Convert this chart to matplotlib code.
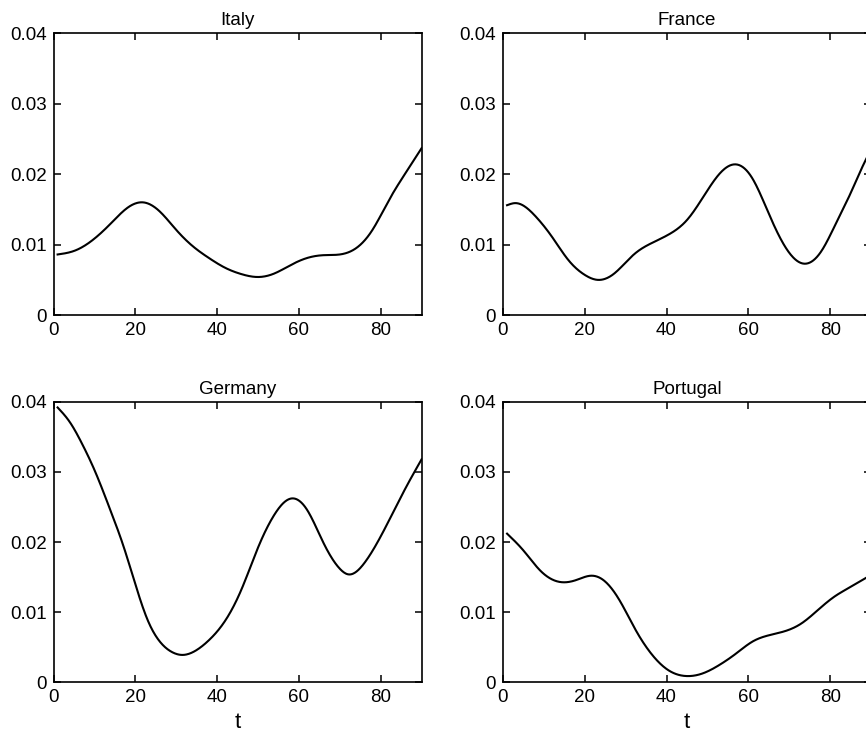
import matplotlib
matplotlib.use("Agg")
import numpy as np
import matplotlib.pyplot as plt

plt.rcParams['font.family'] = ['Liberation Sans', 'DejaVu Sans']

# values
t_italy = [1, 5, 9, 14, 18, 22, 26, 30, 34, 38, 42, 46, 50, 54, 58, 62, 66, 70, 74, 78, 82, 86, 90]
italy = [0.0086, 0.0091, 0.0104, 0.0130, 0.0152, 0.0160, 0.0147, 0.0121, 0.0098, 0.0081,
         0.0067, 0.0058, 0.0054, 0.0059, 0.0071, 0.0081, 0.0085, 0.0086, 0.0095, 0.0121,
         0.0163, 0.0201, 0.0237]

t_france = [1, 3, 8, 12, 16, 20, 23, 27, 32, 37, 41, 45, 49, 53, 57, 61, 65, 69, 73.5, 78,
            81, 85, 88.5, 90]
france = [0.0156, 0.0159, 0.0140, 0.0111, 0.0078, 0.0057, 0.0050, 0.0058, 0.0086, 0.0104,
          0.0116, 0.0135, 0.0168, 0.0201, 0.0214, 0.0194, 0.0144, 0.0097, 0.0073, 0.0092,
          0.0125, 0.0173, 0.0218, 0.0235]

t_germany = [1, 4, 7, 10, 14, 17, 20, 23, 26, 29, 31.5, 35, 38, 42, 46, 50, 54, 58, 62, 66,
             70, 72, 76, 81, 86, 90]
germany = [0.0392, 0.0371, 0.0340, 0.0303, 0.0244, 0.0196, 0.0140, 0.0089, 0.0058, 0.0043,
           0.0039, 0.0046, 0.0060, 0.0088, 0.0133, 0.0192, 0.0239, 0.0262, 0.0246, 0.0199,
           0.0162, 0.0154, 0.0170, 0.0219, 0.0276, 0.0318]

t_portugal = [1, 5, 9, 14, 18, 21.5, 24.5, 28.5, 32.5, 36.5, 40.5, 44.5, 49, 53, 57, 61, 65,
              69, 73, 77, 81, 85, 88.5, 90]
portugal = [0.0212, 0.0188, 0.0160, 0.0143, 0.0146, 0.0152, 0.0146, 0.0117, 0.0074, 0.0039,
            0.0017, 0.0009, 0.0013, 0.0025, 0.0041, 0.0058, 0.0067, 0.0073, 0.0084, 0.0103,
            0.0122, 0.0136, 0.0148, 0.0153]


def spline(x, y, n=600):
    # natural cubic spline through the read points, just to draw a smooth line
    x = np.asarray(x, float)
    y = np.asarray(y, float)
    k = len(x)
    h = np.diff(x)
    A = np.zeros((k, k))
    b = np.zeros(k)
    A[0, 0] = A[-1, -1] = 1
    for i in range(1, k - 1):
        A[i, i - 1] = h[i - 1]
        A[i, i] = 2 * (h[i - 1] + h[i])
        A[i, i + 1] = h[i]
        b[i] = 6 * ((y[i + 1] - y[i]) / h[i] - (y[i] - y[i - 1]) / h[i - 1])
    M = np.linalg.solve(A, b)
    xs = np.linspace(x[0], x[-1], n)
    j = np.clip(np.searchsorted(x, xs) - 1, 0, k - 2)
    dx1 = x[j + 1] - xs
    dx0 = xs - x[j]
    hj = h[j]
    ys = (M[j] * dx1 ** 3 / (6 * hj) + M[j + 1] * dx0 ** 3 / (6 * hj)
          + (y[j] / hj - M[j] * hj / 6) * dx1 + (y[j + 1] / hj - M[j + 1] * hj / 6) * dx0)
    return xs, ys


fig = plt.figure(figsize=(8.66, 7.36), dpi=100)

panels = [
    ("Italy", t_italy, italy, [0.0618, 0.572, 0.425, 0.3825], False),
    ("France", t_france, france, [0.5808, 0.572, 0.425, 0.3825], False),
    ("Germany", t_germany, germany, [0.0618, 0.073, 0.425, 0.381], True),
    ("Portugal", t_portugal, portugal, [0.5808, 0.073, 0.425, 0.381], True),
]

for name, tx, vals, pos, bottom in panels:
    ax = fig.add_axes(pos)
    xs, ys = spline(tx, vals)
    ax.plot(xs, ys, color='black', lw=1.5)
    ax.set_xlim(0, 90)
    ax.set_ylim(0, 0.04)
    ax.set_xticks([0, 20, 40, 60, 80])
    ax.set_yticks([0, 0.01, 0.02, 0.03, 0.04])
    ax.set_yticklabels(['0', '0.01', '0.02', '0.03', '0.04'])
    ax.tick_params(direction='in', top=True, right=True, length=5, width=1.1,
                   labelsize=13.5, pad=5)
    for sp in ax.spines.values():
        sp.set_linewidth(1.2)
    ax.set_title(name, fontsize=13.5, pad=6)
    if bottom:
        ax.set_xlabel('t', fontsize=16, labelpad=4)

fig.savefig('out.png', dpi=100)
